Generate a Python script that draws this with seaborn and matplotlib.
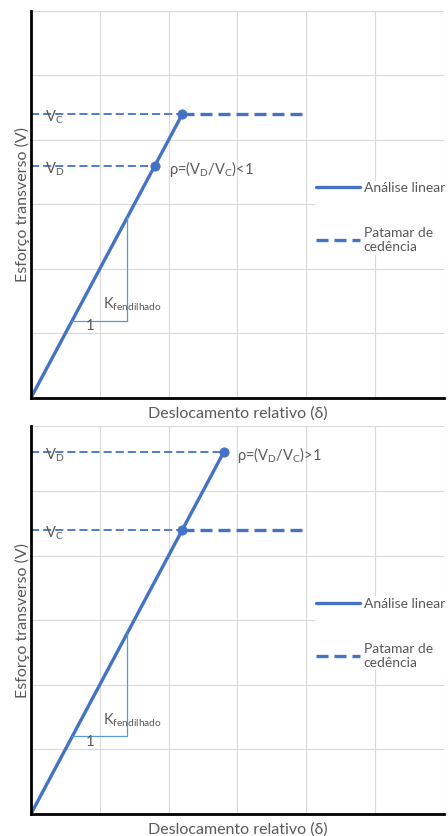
import numpy as np
import pandas as pd
import seaborn as sns
import matplotlib.pyplot as plt

# values (axes in grid units, 6 x 6)
grid_ticks = [0, 1, 2, 3, 4, 5, 6]
v_c = 4.4
d_c = 2.2
plateau_end = 4.0
v_d = [3.6, 5.6]
d_d = [1.8, 2.8]
tri_x = [0.6, 1.4, 1.4]
tri_y = [1.2, 1.2, 2.8]
rho_text = [r"ρ=(V$_\mathregular{D}$/V$_\mathregular{C}$)<1",
            r"ρ=(V$_\mathregular{D}$/V$_\mathregular{C}$)>1"]
rho_x = [2.0, 3.0]

blue = "#4472C4"
light_blue = "#5B9BD5"
gray = "#595959"

sns.set_style("whitegrid", {"grid.color": "#D9D9D9", "axes.edgecolor": "black"})
plt.rcParams["font.family"] = ["Lato", "DejaVu Sans"]
plt.rcParams["mathtext.fontset"] = "custom"
plt.rcParams["mathtext.rm"] = "Lato"

fig = plt.figure(figsize=(4.48, 8.36), dpi=100)
ax_top = fig.add_axes([0.069, 0.524, 0.922, 0.463])
ax_bot = fig.add_axes([0.069, 0.0263, 0.922, 0.4637])

for i, ax in enumerate([ax_top, ax_bot]):
    end = max(d_c, d_d[i])
    # linear analysis line
    sns.lineplot(x=[0, end], y=[0, 2 * end], ax=ax, color=blue, linewidth=2.4,
                 label="Análise linear", estimator=None, sort=False)
    # thin guide lines for V_C and V_D
    sns.lineplot(x=[0, d_c], y=[v_c, v_c], ax=ax, color=blue, linewidth=1.3,
                 linestyle=(0, (4.5, 2.2)), estimator=None, sort=False)
    sns.lineplot(x=[0, d_d[i]], y=[v_d[i], v_d[i]], ax=ax, color=blue, linewidth=1.3,
                 linestyle=(0, (4.5, 2.2)), estimator=None, sort=False)
    # yield plateau
    sns.lineplot(x=[d_c, plateau_end], y=[v_c, v_c], ax=ax, color=blue, linewidth=2.4,
                 linestyle=(0, (3.6, 1.8)), label="Patamar de\ncedência",
                 estimator=None, sort=False)
    # slope triangle
    sns.lineplot(x=tri_x, y=tri_y, ax=ax, color=light_blue, linewidth=0.9,
                 estimator=None, sort=False)
    sns.scatterplot(x=[d_c, d_d[i]], y=[v_c, v_d[i]], ax=ax, color=blue, s=45,
                    edgecolor=blue, zorder=5)

    ax.text(0.2, v_c - 0.05, r"V$_\mathregular{C}$", color=gray, fontsize=10.5, va="center")
    ax.text(0.2, v_d[i] - 0.05, r"V$_\mathregular{D}$", color=gray, fontsize=10.5, va="center")
    ax.text(rho_x[i], v_d[i] - 0.05, rho_text[i], color=gray, fontsize=10.5, va="center")
    ax.text(1.05, 1.45, r"K$_\mathregular{fendilhado}$", color=gray, fontsize=10.5, va="center")
    ax.text(0.8, 1.12, "1", color=gray, fontsize=10.5, va="center")

    ax.set_xlim(0, 6)
    ax.set_ylim(0, 6)
    ax.set_xticks(grid_ticks)
    ax.set_yticks(grid_ticks)
    ax.tick_params(axis="both", length=5, width=0.8, color="#BFBFBF",
                   labelleft=False, labelbottom=False)
    for side in ["top", "right"]:
        ax.spines[side].set_visible(False)
    for side in ["left", "bottom"]:
        ax.spines[side].set_color("black")
        ax.spines[side].set_linewidth(2)
    ax.set_xlabel("Deslocamento relativo (δ)", color=gray, fontsize=11.5, labelpad=6)
    ax.set_ylabel("Esforço transverso (V)", color=gray, fontsize=11.5, labelpad=1)

    leg = ax.legend(loc="center left", bbox_to_anchor=(0.688, 0.466), frameon=True,
                    facecolor="white", edgecolor="none", framealpha=1,
                    fontsize=10, handlelength=3.1, labelspacing=2.4,
                    handletextpad=0.3, borderpad=0.1, borderaxespad=0)
    for t in leg.get_texts():
        t.set_color(gray)

fig.savefig("out.png", dpi=100)
